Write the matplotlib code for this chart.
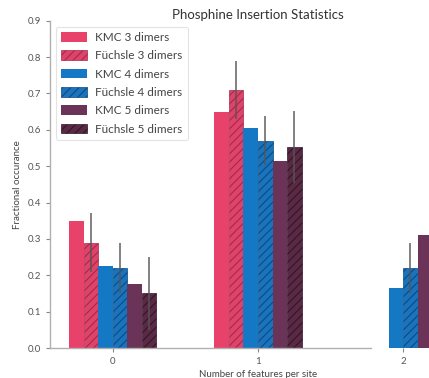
import matplotlib
matplotlib.use("Agg")
import matplotlib.pyplot as plt
import numpy as np

plt.rcParams['font.family'] = ['Lato', 'DejaVu Sans']
plt.rcParams['hatch.linewidth'] = 0.8

groups = [0, 1, 2]
labels = ["KMC 3 dimers", "Füchsle 3 dimers", "KMC 4 dimers",
          "Füchsle 4 dimers", "KMC 5 dimers", "Füchsle 5 dimers"]
kmc3 = [0.35, 0.65, 0.0]
fuchsle3 = [0.29, 0.71, 0.0]
fuchsle3_err = [0.08, 0.08, 0.0]
kmc4 = [0.225, 0.605, 0.165]
fuchsle4 = [0.22, 0.57, 0.22]
fuchsle4_err = [0.07, 0.068, 0.07]
kmc5 = [0.177, 0.513, 0.31]
fuchsle5 = [0.15, 0.553, 0.30]
fuchsle5_err = [0.10, 0.10, 0.10]

series = [
    (kmc3, None, '#e8426b', None, None),
    (fuchsle3, fuchsle3_err, '#e0436a', '#a32a4b', '////'),
    (kmc4, None, '#1478c4', None, None),
    (fuchsle4, fuchsle4_err, '#1a74bd', '#0e4a80', '////'),
    (kmc5, None, '#6a3357', None, None),
    (fuchsle5, fuchsle5_err, '#5a2a45', '#33152a', '////'),
]

W, H = 429, 378
fig = plt.figure(figsize=(W / 100, H / 100), dpi=100)
left, right = 50, 466
bottom, top = 348, 20.7
ax = fig.add_axes([left / W, 1 - bottom / H, (right - left) / W, (bottom - top) / H])

x = np.array(groups, dtype=float)
width = 0.1
for i, ((vals, err, fc, ec, hatch), lab) in enumerate(zip(series, labels)):
    off = (i - 2.5) * width
    if hatch:
        ax.bar(x + off, vals, width, color=fc, edgecolor=ec, hatch=hatch,
               linewidth=0.5, label=lab, zorder=2)
        ax.errorbar(x + off, vals, yerr=err, fmt='none', ecolor='#555555',
                    elinewidth=1.3, capsize=0, zorder=3, alpha=0.8)
    else:
        ax.bar(x + off, vals, width, color=fc, edgecolor=fc, linewidth=0,
               label=lab, zorder=2)

ax.set_xlim(-0.434, 2.434)
ax.set_ylim(0, 0.9)
ax.set_xticks(groups)
ax.set_xticklabels([str(g) for g in groups])
ax.set_yticks(np.arange(0, 0.91, 0.1))
ax.set_yticklabels([f"{v:.1f}" for v in np.arange(0, 0.91, 0.1)])

for s in ['top', 'right']:
    ax.spines[s].set_visible(False)
for s in ['left', 'bottom']:
    ax.spines[s].set_color('#b0b0b0')
    ax.spines[s].set_linewidth(1.0)
ax.spines['bottom'].set_bounds(-0.434, 1.78)
ax.tick_params(colors='#888888', labelcolor='#555555', labelsize=7, length=3, width=0.8)

ax.set_title("Phosphine Insertion Statistics", fontsize=9.5, color='#333333', pad=1)
ax.set_xlabel("Number of features per site", fontsize=7, color='#444444', labelpad=3)
ax.set_ylabel("Fractional occurance", fontsize=7, color='#444444', labelpad=4)

leg = ax.legend(loc='upper left', bbox_to_anchor=(0.0, 1.0), fontsize=8.5,
                frameon=True, handlelength=2.2, handleheight=0.9,
                labelspacing=0.62, borderpad=0.45, handletextpad=0.7, fancybox=True)
leg.get_frame().set_edgecolor('#dddddd')
leg.get_frame().set_linewidth(0.8)
for t in leg.get_texts():
    t.set_color('#444444')

fig.savefig("out.png", dpi=100)
